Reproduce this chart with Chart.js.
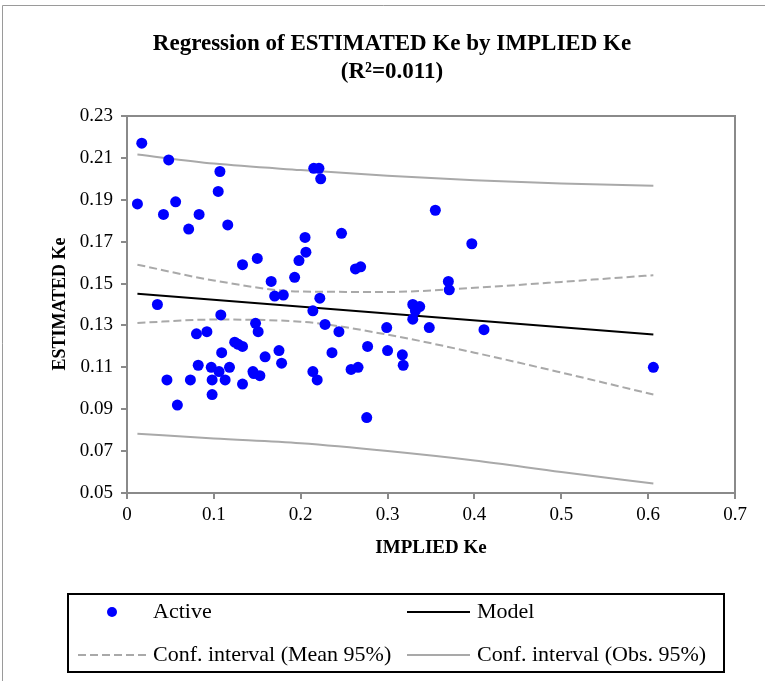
<!DOCTYPE html>
<html>
<head>
<meta charset="utf-8">
<title>Regression of ESTIMATED Ke by IMPLIED Ke</title>
<script src="https://cdn.jsdelivr.net/npm/chart.js@4/dist/chart.umd.min.js"></script>
<style>
    html, body { margin: 0; padding: 0; background: #fff; }
    #wrap { width: 765px; height: 681px; position: relative; }
</style>
</head>
<body>
<div id="wrap"><canvas id="chart" width="765" height="681"></canvas></div>
<script>
// Observations (IMPLIED Ke, ESTIMATED Ke)
const implied = [
    0.017, 0.012, 0.048, 0.042, 0.056, 0.071, 0.083, 0.107, 0.105, 0.116,
    0.133, 0.150, 0.166, 0.170, 0.180, 0.193, 0.198, 0.205, 0.206, 0.215,
    0.221, 0.223, 0.222, 0.355, 0.247, 0.397, 0.263, 0.269, 0.370, 0.371,
    0.035, 0.108, 0.214, 0.148, 0.151, 0.080, 0.092, 0.124, 0.128, 0.133,
    0.109, 0.175, 0.159, 0.178, 0.082, 0.097, 0.118, 0.106, 0.145, 0.146,
    0.153, 0.214, 0.219, 0.046, 0.073, 0.098, 0.113, 0.133, 0.098, 0.058,
    0.228, 0.244, 0.236, 0.277, 0.299, 0.300, 0.317, 0.318, 0.329, 0.337,
    0.332, 0.329, 0.348, 0.411, 0.258, 0.266, 0.276, 0.606
];
const estimated = [
    0.217, 0.188, 0.209, 0.183, 0.189, 0.176, 0.183, 0.2035, 0.194, 0.178,
    0.159, 0.162, 0.151, 0.144, 0.1445, 0.153, 0.161, 0.172, 0.165, 0.205,
    0.205, 0.200, 0.143, 0.185, 0.174, 0.169, 0.157, 0.158, 0.151, 0.147,
    0.140, 0.135, 0.137, 0.131, 0.127, 0.126, 0.127, 0.122, 0.121, 0.120,
    0.117, 0.118, 0.115, 0.112, 0.111, 0.110, 0.110, 0.108, 0.108, 0.107,
    0.106, 0.108, 0.104, 0.104, 0.104, 0.104, 0.104, 0.102, 0.097, 0.092,
    0.1305, 0.127, 0.117, 0.120, 0.129, 0.118, 0.116, 0.111, 0.140, 0.139,
    0.137, 0.133, 0.129, 0.128, 0.109, 0.110, 0.086, 0.110
];

// Model line and confidence bands, read along the x axis
const modelX = [0.012, 0.606];
const modelY = [0.1451, 0.1257];
const bandX      = [0.012, 0.1, 0.2, 0.3, 0.4, 0.5, 0.606];
const meanUpper  = [0.1590, 0.1515, 0.1462, 0.1460, 0.1480, 0.1508, 0.1540];
const meanLower  = [0.1312, 0.1328, 0.1318, 0.1256, 0.1170, 0.1075, 0.0970];
const obsUpper   = [0.2116, 0.2073, 0.2042, 0.2015, 0.1993, 0.1978, 0.1967];
const obsLower   = [0.0783, 0.0760, 0.0737, 0.0700, 0.0655, 0.0600, 0.0545];

// Axis ticks
const xTicks = [0, 0.1, 0.2, 0.3, 0.4, 0.5, 0.6, 0.7];
const yTicks = [0.05, 0.07, 0.09, 0.11, 0.13, 0.15, 0.17, 0.19, 0.21, 0.23];

const titleLines = ["Regression of ESTIMATED Ke by IMPLIED Ke", "(R\u00B2=0.011)"];
const xTitle = "IMPLIED Ke";
const yTitle = "ESTIMATED Ke";

const SERIF = "'Liberation Serif', 'DejaVu Serif', serif";
const GRAY_AXIS = "#8a8a8a";
const GRAY_BAND = "#a9a9a9";

const pts = (xs, ys) => xs.map((x, i) => ({ x, y: ys[i] }));

const datasets = [
    {
        label: "Active", type: "scatter", order: 0,
        data: pts(implied, estimated),
        backgroundColor: "#0000ff", borderWidth: 0,
        pointRadius: 5.5, pointHoverRadius: 5.5,
    },
    {
        label: "Model", type: "line", order: 1,
        data: pts(modelX, modelY),
        borderColor: "#000", borderWidth: 2, pointRadius: 0, fill: false,
    },
    {
        label: "Conf. interval (Mean 95%)", type: "line", order: 2,
        data: pts(bandX, meanUpper),
        borderColor: GRAY_BAND, borderWidth: 2, borderDash: [8, 4],
        pointRadius: 0, fill: false, cubicInterpolationMode: "monotone",
    },
    {
        label: "_meanLower", type: "line", order: 2,
        data: pts(bandX, meanLower),
        borderColor: GRAY_BAND, borderWidth: 2, borderDash: [8, 4],
        pointRadius: 0, fill: false, cubicInterpolationMode: "monotone",
    },
    {
        label: "Conf. interval (Obs. 95%)", type: "line", order: 3,
        data: pts(bandX, obsUpper),
        borderColor: GRAY_BAND, borderWidth: 2,
        pointRadius: 0, fill: false, cubicInterpolationMode: "monotone",
    },
    {
        label: "_obsLower", type: "line", order: 3,
        data: pts(bandX, obsLower),
        borderColor: GRAY_BAND, borderWidth: 2,
        pointRadius: 0, fill: false, cubicInterpolationMode: "monotone",
    },
];

// Title, axis titles, frames and the boxed legend
const decorations = {
    id: "decorations",
    afterDraw(chart) {
        const { ctx, chartArea: a } = chart;
        ctx.save();

        // outer chart frame (only top and left edges are in view)
        ctx.strokeStyle = "#9a9a9a";
        ctx.lineWidth = 1;
        ctx.beginPath();
        ctx.moveTo(2.5, 681); ctx.lineTo(2.5, 5.5); ctx.lineTo(765, 5.5);
        ctx.stroke();

        // plot area box
        ctx.strokeStyle = GRAY_AXIS;
        ctx.lineWidth = 2;
        ctx.strokeRect(a.left, a.top, a.right - a.left, a.bottom - a.top);

        // title
        ctx.fillStyle = "#000";
        ctx.textAlign = "center";
        ctx.textBaseline = "middle";
        ctx.font = "bold 23px " + SERIF;
        ctx.fillText(titleLines[0], 392, 44);
        ctx.fillText(titleLines[1], 392, 72);

        // axis titles
        ctx.font = "bold 19px " + SERIF;
        ctx.fillText(xTitle, 431, 548);
        ctx.save();
        ctx.translate(60, 304);
        ctx.rotate(-Math.PI / 2);
        ctx.font = "bold 18px " + SERIF;
        ctx.fillText(yTitle, 0, 0);
        ctx.restore();

        // legend
        ctx.strokeStyle = "#000";
        ctx.lineWidth = 2;
        ctx.strokeRect(68, 594, 656, 78);
        ctx.font = "22px " + SERIF;
        ctx.textAlign = "left";
        const r1 = 612, r2 = 655;
        const ds = chart.data.datasets;

        ctx.fillStyle = ds[0].backgroundColor;
        ctx.beginPath(); ctx.arc(112, r1, 5, 0, Math.PI * 2); ctx.fill();

        const seg = (x0, x1, y, d) => {
            ctx.save();
            ctx.strokeStyle = d.borderColor;
            ctx.lineWidth = d.borderWidth;
            ctx.setLineDash(d.borderDash || []);
            ctx.beginPath(); ctx.moveTo(x0, y); ctx.lineTo(x1, y); ctx.stroke();
            ctx.restore();
        };
        seg(407, 470, r1, ds[1]);
        seg(78, 146, r2, ds[2]);
        seg(407, 470, r2, ds[4]);

        ctx.fillStyle = "#000";
        ctx.fillText(ds[0].label, 153, r1);
        ctx.fillText(ds[1].label, 477, r1);
        ctx.fillText(ds[2].label, 153, r2);
        ctx.fillText(ds[4].label, 477, r2);

        ctx.restore();
    }
};

new Chart(document.getElementById("chart"), {
    type: "scatter",
    data: { datasets },
    options: {
        responsive: false,
        animation: false,
        devicePixelRatio: 1,
        layout: { padding: { left: 0, top: 116, right: 30, bottom: 0 } },
        plugins: {
            legend: { display: false },
            title: { display: false },
            tooltip: { enabled: false },
        },
        scales: {
            x: {
                type: "linear", min: 0, max: 0.7,
                afterBuildTicks: s => { s.ticks = xTicks.map(v => ({ value: v })); },
                afterFit: s => { s.height = 188; },
                grid: { display: true, drawOnChartArea: false, drawTicks: true, tickLength: 6, color: GRAY_AXIS, lineWidth: 2 },
                border: { display: false },
                ticks: {
                    color: "#000", padding: 5, maxRotation: 0,
                    font: { family: SERIF, size: 19 },
                    callback: v => String(Number(v.toFixed(1))),
                },
            },
            y: {
                type: "linear", min: 0.05, max: 0.23,
                afterBuildTicks: s => { s.ticks = yTicks.map(v => ({ value: v })); },
                afterFit: s => { s.width = 127; },
                grid: { display: true, drawOnChartArea: false, drawTicks: true, tickLength: 6, color: GRAY_AXIS, lineWidth: 2 },
                border: { display: false },
                ticks: {
                    color: "#000", padding: 8,
                    font: { family: SERIF, size: 19 },
                    callback: v => v.toFixed(2),
                },
            },
        },
    },
    plugins: [decorations],
});
</script>
</body>
</html>
